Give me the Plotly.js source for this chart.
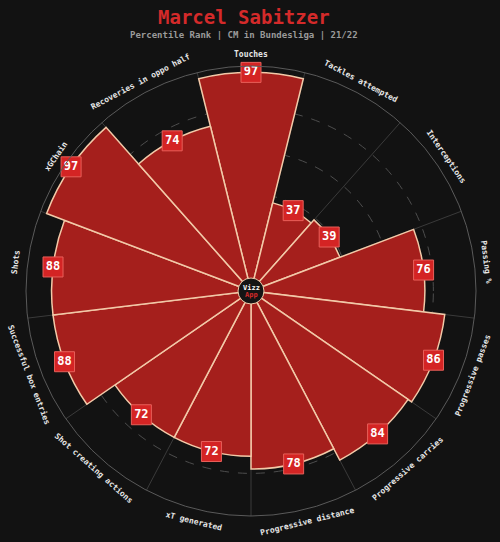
<!DOCTYPE html>
<html>
<head>
<meta charset="utf-8">
<script src="https://cdn.plot.ly/plotly-3.0.1.min.js"></script>
<style>html,body{margin:0;padding:0;background:#121212;}#chart{width:500px;height:542px;}</style>
</head>
<body>
<div id="chart"></div>
<script>
const categories = ["Touches", "Tackles attempted", "Interceptions", "Passing %", "Progressive passes",
  "Progressive carries", "Progressive distance", "xT generated", "Shot creating actions",
  "Successful box entries", "Shots", "xGChain", "Recoveries in oppo half"];
const values = [97, 37, 39, 76, 86, 84, 78, 72, 72, 88, 88, 97, 74];
const titleText = "Marcel Sabitzer";
const subtitleText = "Percentile Rank | CM in Bundesliga | 21/22";

const W = 500, H = 542;
const M = {l: 26, r: 24, t: 66, b: 26};
const plotW = W - M.l - M.r, plotH = H - M.t - M.b;
const step = 360 / categories.length;
const thetas = categories.map((c, i) => i * step);
const bounds = categories.map((c, i) => i * step + step / 2);
const font = "DejaVu Sans Mono, monospace";

const bars = {
  type: "barpolar", r: values, theta: thetas, width: categories.map(() => step),
  marker: {color: "#a51f1c", line: {color: "#f2c9a8", width: 1.5}},
  hoverinfo: "skip", showlegend: false
};
const labels = {
  type: "scatterpolar", mode: "markers+text", r: values, theta: thetas,
  text: values.map(String), textposition: "middle center",
  textfont: {family: font, size: 12, color: "#ffffff", weight: "bold"},
  marker: {symbol: "square", size: 20, color: "#d42424", line: {color: "#e8605a", width: 1}},
  hoverinfo: "skip", showlegend: false, cliponaxis: false
};

const annotations = [];
const labelR = 237;
categories.forEach((c, i) => {
  const a = thetas[i];
  const rad = a * Math.PI / 180;
  const x = 0.5 + labelR * Math.sin(rad) / plotW;
  const y = 0.5 + labelR * Math.cos(rad) / plotH;
  let ang = a;
  if (a > 90 && a < 270) ang = a - 180; else if (a >= 270) ang = a - 360;
  annotations.push({
    text: c, x: x, y: y, xref: "paper", yref: "paper", showarrow: false,
    xanchor: "center", yanchor: "middle", textangle: ang,
    font: {family: font, size: 8, color: "#e6e6e6", weight: "bold"}
  });
});
annotations.push({
  text: titleText, x: 0.484, y: (H - M.b - 17) / plotH, xref: "paper", yref: "paper",
  showarrow: false, xanchor: "center", yanchor: "middle",
  font: {family: font, size: 19, color: "#d42a2a", weight: "bold"}
});
annotations.push({
  text: subtitleText, x: 0.484, y: (H - M.b - 35) / plotH, xref: "paper", yref: "paper",
  showarrow: false, xanchor: "center", yanchor: "middle",
  font: {family: font, size: 9, color: "#9a9a9a", weight: "bold"}
});
annotations.push({
  text: "Vizz", x: 0.5, y: 0.5 + 3.5 / plotH, xref: "paper", yref: "paper", showarrow: false,
  xanchor: "center", yanchor: "middle", font: {family: font, size: 7, color: "#ffffff", weight: "bold"}
});
annotations.push({
  text: "App", x: 0.5, y: 0.5 - 4 / plotH, xref: "paper", yref: "paper", showarrow: false,
  xanchor: "center", yanchor: "middle", font: {family: font, size: 7, color: "#d42a2a", weight: "bold"}
});

const cr = 13;
const layout = {
  width: W, height: H, margin: M,
  paper_bgcolor: "#121212", plot_bgcolor: "#121212",
  showlegend: false,
  polar: {
    bgcolor: "#121212", hole: 0.053,
    domain: {x: [0, 1], y: [0, 1]},
    radialaxis: {range: [0, 100], tickvals: [20, 40, 60, 80], showticklabels: false, ticks: "",
      showline: false, gridcolor: "#4d4d4d", griddash: "dash", gridwidth: 1},
    angularaxis: {type: "linear", direction: "clockwise", rotation: 90, tickvals: bounds,
      showticklabels: false, ticks: "", showline: true, linecolor: "#5a5a5a", linewidth: 1,
      gridcolor: "#3a3a3a", gridwidth: 1}
  },
  shapes: [{
    type: "circle", xref: "paper", yref: "paper",
    x0: 0.5 - cr / plotW, x1: 0.5 + cr / plotW, y0: 0.5 - cr / plotH, y1: 0.5 + cr / plotH,
    fillcolor: "#141414", line: {color: "#f2c9a8", width: 1}, layer: "above"
  }],
  annotations: annotations
};
Plotly.newPlot("chart", [bars, labels], layout, {displayModeBar: false, staticPlot: true});
</script>
</body>
</html>
